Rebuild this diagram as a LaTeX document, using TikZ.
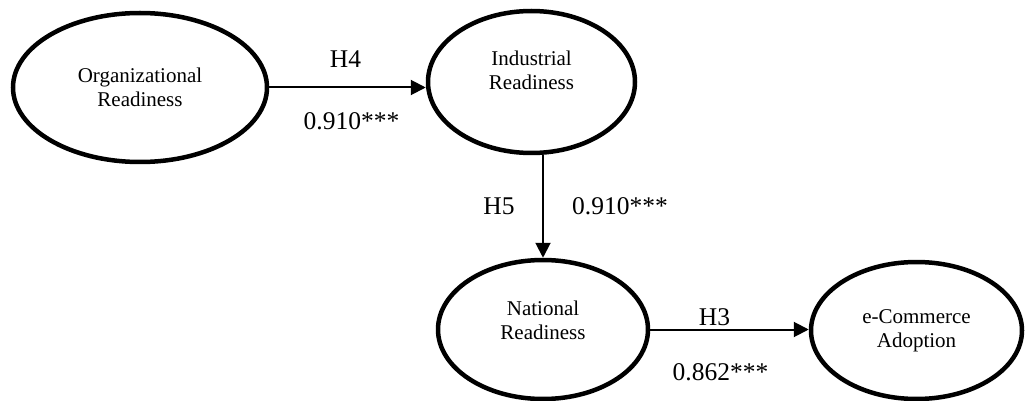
\documentclass[tikz,border=0pt]{standalone}
\usepackage{fontspec}
\setmainfont{Liberation Serif}
\usetikzlibrary{shapes.geometric,arrows.meta}

\tikzset{
  latent/.style={ellipse,draw,line width=4.5pt,inner sep=0pt,align=center,
    font=\fontsize{21}{24}\selectfont},
  nametext/.style={inner sep=0pt,align=center,font=\fontsize{21}{24}\selectfont},
  path/.style={line width=2pt,-{Triangle[length=15pt,width=15pt]}},
  coef/.style={inner sep=0pt,font=\fontsize{25.5}{30}\selectfont}
}

\begin{document}
\begin{tikzpicture}[x=1pt,y=-1pt]
  \useasboundingbox (0,0) rectangle (1026,401);
  % constructs
  \node[latent,minimum width=254pt,minimum height=149pt] (org) at (140,87.5) {Organizational\\Readiness};
  \node[latent,minimum width=207pt,minimum height=142pt] (ind) at (531.5,82) {};
  \node[nametext] (indtxt) at ([yshift=12pt]ind.center) {Industrial\\Readiness};
  \node[latent,minimum width=210pt,minimum height=139pt] (nat) at (543,329.5) {};
  \node[nametext] (nattxt) at ([yshift=9pt]nat.center) {National\\Readiness};
  \node[latent,minimum width=211pt,minimum height=137pt] (ecom) at (916.5,330.5) {e-Commerce\\Adoption};
  % paths
  \draw[path] (org.east) -- (org.east -| ind.west)
    node[coef,midway,yshift=28pt,xshift=-2pt] (h4) {H4}
    node[coef,midway,yshift=-34pt,xshift=4pt] (b4) {0.910***};
  \draw[path] (nat.north |- ind.south) -- (nat.north)
    node[coef,midway,xshift=-44pt] (h5) {H5}
    node[coef,midway,xshift=77pt] (b5) {0.910***};
  \draw[path] (nat.east) -- (nat.east -| ecom.west)
    node[coef,midway,yshift=12pt,xshift=-15pt] (h3) {H3}
    node[coef,midway,yshift=-43pt,xshift=-9pt] (b3) {0.862***};
\end{tikzpicture}
\end{document}
